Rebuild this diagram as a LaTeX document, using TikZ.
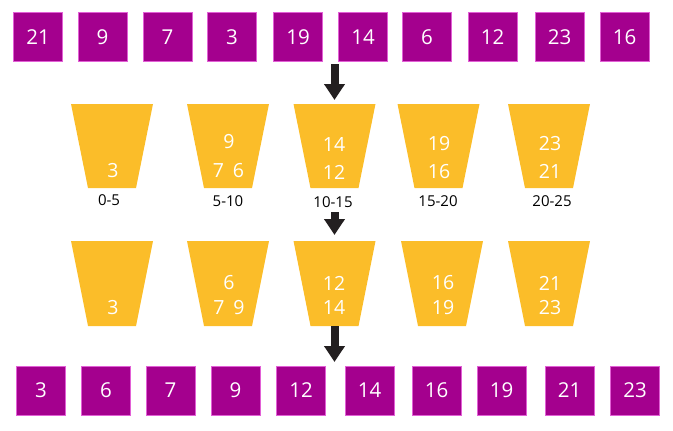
\documentclass[tikz,border=0pt]{standalone}
\usepackage{fontspec}
\setmainfont{Open Sans}
\usetikzlibrary{arrows.meta,calc}

\definecolor{plum}{RGB}{164,0,142}
\definecolor{plumedge}{RGB}{226,96,214}
\definecolor{honey}{RGB}{251,189,41}
\definecolor{ink}{RGB}{35,31,32}

\tikzstyle{cell}=[draw=plumedge,line width=0.7pt,fill=plum,minimum size=49pt,inner sep=0pt,text=white,font=\fontsize{20.5}{20.5}\selectfont]
\tikzstyle{bucket}=[fill=honey]
\tikzstyle{entry}=[text=white,font=\fontsize{19.5}{19.5}\selectfont,inner sep=0pt]
\tikzstyle{binlabel}=[font=\fontsize{15}{15}\selectfont,inner sep=0pt]
\tikzstyle{push}=[draw=ink,line width=8pt,-{Triangle[width=20pt,length=16pt]}]

\begin{document}
\begin{tikzpicture}[x=1pt,y=-1pt]

   \useasboundingbox (0,0) rectangle (673,431);

   % Unsorted input
   \node[cell] (a1) at (38,37) {21};
   \node[cell] (a2) at (102.5,37) {9};
   \node[cell] (a3) at (167.5,37) {7};
   \node[cell] (a4) at (232,37) {3};
   \node[cell] (a5) at (298,37) {19};
   \node[cell] (a6) at (363,37) {14};
   \node[cell] (a7) at (427,37) {6};
   \node[cell] (a8) at (492.5,37) {12};
   \node[cell] (a9) at (559.5,37) {23};
   \node[cell] (a10) at (624.5,37) {16};

% Scattered into buckets
   \fill[bucket] (71,104) coordinate(b1tl) -- ++(82,0) coordinate(b1tr)
-- ++(-17,84) coordinate(b1br) -- ++(-48,0) coordinate(b1bl) -- cycle;
   \fill[bucket] (187,104) coordinate(b2tl) -- ++(82,0) coordinate(b2tr)
-- ++(-17,84) coordinate(b2br) -- ++(-48,0) coordinate(b2bl) -- cycle;
   \fill[bucket] (293.5,104) coordinate(b3tl) -- ++(82,0) coordinate(b3tr)
-- ++(-17,84) coordinate(b3br) -- ++(-48,0) coordinate(b3bl) -- cycle;
   \fill[bucket] (397.5,104) coordinate(b4tl) -- ++(82,0) coordinate(b4tr)
-- ++(-17,84) coordinate(b4br) -- ++(-48,0) coordinate(b4bl) -- cycle;
   \fill[bucket] (508,104) coordinate(b5tl) -- ++(82,0) coordinate(b5tr)
-- ++(-17,84) coordinate(b5br) -- ++(-48,0) coordinate(b5bl) -- cycle;

   \coordinate (s1) at (334.5,64);
   \draw[push,shorten >=4pt] (s1) -- ($(b3tl)!0.5!(b3tr)$);

   \node[entry] (b1x) at (113,171) {3};
   \node[entry] (b2x) at (229,142) {9};
   \node[entry] (b2y) at (228.5,171) {7\hspace{9pt}6};
   \node[entry] (b3x) at (334,145) {14};
   \node[entry] (b3y) at (334,172) {12};
   \node[entry] (b4x) at (439,144) {19};
   \node[entry] (b4y) at (439,172) {16};
   \node[entry] (b5x) at (550,144) {23};
   \node[entry] (b5y) at (550,171) {21};

   \node[binlabel] (r1) at (109,200) {0-5};
   \node[binlabel] (r2) at (228,201) {5-10};
   \node[binlabel] (r3) at (333,202) {10-15};
   \node[binlabel] (r4) at (438,201) {15-20};
   \node[binlabel] (r5) at (552,201) {20-25};

% Each bucket sorted
   \fill[bucket] (71,241) coordinate(c1tl) -- ++(82,0) coordinate(c1tr)
-- ++(-17,85) coordinate(c1br) -- ++(-48,0) coordinate(c1bl) -- cycle;
   \fill[bucket] (187,241) coordinate(c2tl) -- ++(82,0) coordinate(c2tr)
-- ++(-17,85) coordinate(c2br) -- ++(-48,0) coordinate(c2bl) -- cycle;
   \fill[bucket] (293.5,241) coordinate(c3tl) -- ++(82,0) coordinate(c3tr)
-- ++(-17,85) coordinate(c3br) -- ++(-48,0) coordinate(c3bl) -- cycle;
   \fill[bucket] (401,241) coordinate(c4tl) -- ++(82,0) coordinate(c4tr)
-- ++(-17,85) coordinate(c4br) -- ++(-48,0) coordinate(c4bl) -- cycle;
   \fill[bucket] (508,241) coordinate(c5tl) -- ++(82,0) coordinate(c5tr)
-- ++(-17,85) coordinate(c5br) -- ++(-48,0) coordinate(c5bl) -- cycle;

   \coordinate (s2) at (334.5,212);
   \draw[push,shorten >=6pt] (s2) -- ($(c3tl)!0.5!(c3tr)$);

   \node[entry] (c1x) at (113,308) {3};
   \node[entry] (c2x) at (229,283) {6};
   \node[entry] (c2y) at (229,308) {7\hspace{9pt}9};
   \node[entry] (c3x) at (334,283) {12};
   \node[entry] (c3y) at (334,308) {14};
   \node[entry] (c4x) at (443,283) {16};
   \node[entry] (c4y) at (443,308) {19};
   \node[entry] (c5x) at (550,283) {21};
   \node[entry] (c5y) at (550,308) {23};

   % Gathered output
   \node[cell] (d1) at (41,390.5) {3};
   \node[cell] (d2) at (106,390.5) {6};
   \node[cell] (d3) at (170.5,390.5) {7};
   \node[cell] (d4) at (235.5,390.5) {9};
   \node[cell] (d5) at (301,390.5) {12};
   \node[cell] (d6) at (369.5,390.5) {14};
   \node[cell] (d7) at (436.5,390.5) {16};
   \node[cell] (d8) at (501.5,390.5) {19};
   \node[cell] (d9) at (569.5,390.5) {21};
   \node[cell] (d10) at (635,390.5) {23};

   \coordinate (s3) at (334.5,362);
   \draw[push] ($(c3bl)!0.5!(c3br)$) -- (s3);

\end{tikzpicture}
\end{document}
